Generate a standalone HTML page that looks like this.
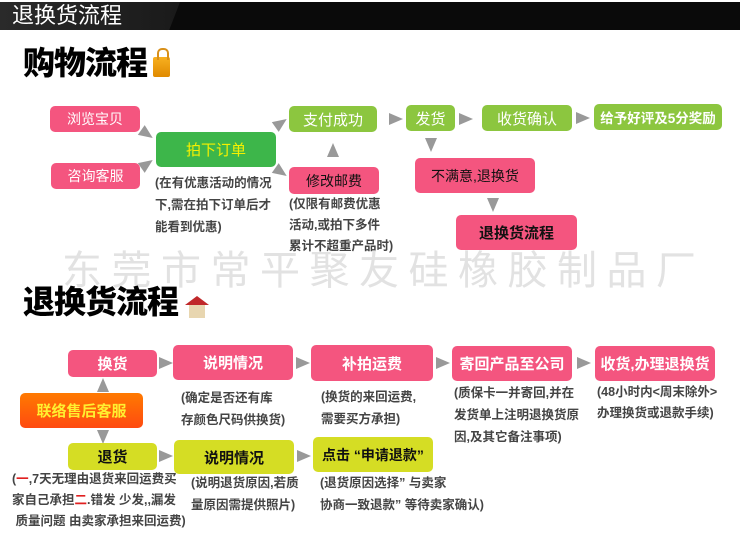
<!DOCTYPE html>
<html><head><meta charset="utf-8"><style>
body{margin:0;width:750px;height:542px;background:#fff;position:relative;overflow:hidden;font-family:"Liberation Sans","Noto Sans CJK SC",sans-serif}
.a{position:absolute}
.b{position:absolute;border-radius:5px;display:flex;align-items:center;justify-content:center;font-size:14px;color:#fff;white-space:nowrap}
.p{background:#f4557f}.g{background:#8cc63f}.y{background:#d5dd24;color:#111;font-weight:bold}
.t{position:absolute;font-size:12.5px;color:#444;line-height:22px;white-space:nowrap;font-weight:bold}
.ar{position:absolute;width:0;height:0}
.r{border-top:6px solid transparent;border-bottom:6px solid transparent;border-left:14px solid #999}
.u{border-left:6px solid transparent;border-right:6px solid transparent;border-bottom:14px solid #999}
.d{border-left:6px solid transparent;border-right:6px solid transparent;border-top:14px solid #999}
</style></head><body>
<div class="a" style="left:0;top:2px;width:740px;height:28px;background:#0a0a0a"></div>
<div class="a" style="left:0;top:2px;width:180px;height:28px;background:linear-gradient(90deg,#2a2a2a,#1a1a1a);clip-path:polygon(0 0,100% 0,94% 100%,0 100%)"></div>
<div class="a" style="left:12px;top:3px;font-size:22px;color:#fff;line-height:26px">退换货流程</div>

<div class="a" style="left:23px;top:43px;font-size:32px;font-weight:900;color:#000;letter-spacing:-1px;line-height:40px">购物流程</div>
<div class="a" style="left:153px;top:57px;width:17px;height:20px;background:linear-gradient(#f8b020,#e08a00);border-radius:2px"></div>
<div class="a" style="left:157px;top:48px;width:8px;height:10px;border:2px solid #d8901a;border-bottom:none;border-radius:5px 5px 0 0"></div>

<div class="b p" style="left:50px;top:106px;width:90px;height:26px">浏览宝贝</div>
<div class="b p" style="left:51px;top:163px;width:89px;height:26px">咨询客服</div>
<div class="ar r" style="left:140px;top:128px;transform:rotate(35deg)"></div>
<div class="ar r" style="left:140px;top:158px;transform:rotate(-35deg)"></div>
<div class="b" style="left:156px;top:132px;width:120px;height:35px;background:#3db64a;color:#f5f000;font-size:15px">拍下订单</div>
<div class="ar r" style="left:274px;top:117px;transform:rotate(-35deg)"></div>
<div class="ar r" style="left:274px;top:166px;transform:rotate(35deg)"></div>
<div class="b g" style="left:289px;top:106px;width:88px;height:26px;font-size:15px">支付成功</div>
<div class="ar u" style="left:327px;top:143px"></div>
<div class="b p" style="left:289px;top:167px;width:90px;height:27px;color:#111">修改邮费</div>
<div class="t" style="left:155px;top:172px">(在有优惠活动的情况<br>下,需在拍下订单后才<br>能看到优惠)</div>
<div class="t" style="left:289px;top:194px;line-height:21px">(仅限有邮费优惠<br>活动,或拍下多件<br>累计不超重产品时)</div>

<div class="ar r" style="left:389px;top:113px"></div>
<div class="b g" style="left:406px;top:105px;width:49px;height:26px;font-size:15px">发货</div>
<div class="ar r" style="left:459px;top:113px"></div>
<div class="b g" style="left:482px;top:105px;width:90px;height:26px;font-size:15px">收货确认</div>
<div class="ar r" style="left:576px;top:112px"></div>
<div class="b g" style="left:594px;top:104px;width:128px;height:26px;font-weight:bold;font-size:13.5px">给予好评及5分奖励</div>
<div class="ar d" style="left:425px;top:138px"></div>
<div class="b p" style="left:415px;top:158px;width:120px;height:35px;color:#111">不满意,退换货</div>
<div class="ar d" style="left:487px;top:198px"></div>
<div class="b p" style="left:456px;top:215px;width:121px;height:35px;color:#111;font-weight:bold;font-size:15px">退换货流程</div>

<div class="a" style="left:62px;top:248px;font-size:40px;color:#e2e2e2;letter-spacing:9.5px;line-height:46px">东莞市常平聚友硅橡胶制品厂</div>

<div class="a" style="left:23px;top:282px;font-size:32px;font-weight:900;color:#000;letter-spacing:-1px;line-height:40px">退换货流程</div>
<div class="a" style="left:185px;top:296px;width:0;height:0;border-left:12px solid transparent;border-right:12px solid transparent;border-bottom:9px solid #c0282a"></div>
<div class="a" style="left:189px;top:305px;width:16px;height:13px;background:#e8d6b0"></div>

<div class="b p" style="left:68px;top:350px;width:89px;height:27px;font-size:15px;font-weight:bold">换货</div>
<div class="ar r" style="left:159px;top:357px"></div>
<div class="b p" style="left:173px;top:345px;width:120px;height:35px;font-size:15px;font-weight:bold">说明情况</div>
<div class="ar r" style="left:296px;top:357px"></div>
<div class="b p" style="left:311px;top:345px;width:122px;height:36px;font-size:15px;font-weight:bold">补拍运费</div>
<div class="ar r" style="left:436px;top:357px"></div>
<div class="b p" style="left:452px;top:346px;width:120px;height:35px;font-size:15px;font-weight:bold">寄回产品至公司</div>
<div class="ar r" style="left:577px;top:357px"></div>
<div class="b p" style="left:595px;top:346px;width:120px;height:35px;font-size:15px;font-weight:bold">收货,办理退换货</div>
<div class="ar u" style="left:97px;top:378px"></div>
<div class="b" style="left:20px;top:393px;width:123px;height:35px;background:linear-gradient(#ff7a00,#ff4a10);color:#ffef30;font-size:15px;font-weight:bold">联络售后客服</div>
<div class="ar d" style="left:97px;top:430px"></div>
<div class="b y" style="left:68px;top:443px;width:89px;height:27px;font-size:15px">退货</div>
<div class="ar r" style="left:159px;top:450px"></div>
<div class="b y" style="left:174px;top:440px;width:120px;height:34px;font-size:15px">说明情况</div>
<div class="ar r" style="left:297px;top:450px"></div>
<div class="b y" style="left:313px;top:437px;width:120px;height:35px;font-size:14px;justify-content:flex-start;padding-left:9px;box-sizing:border-box">点击 “申请退款”</div>

<div class="t" style="left:181px;top:387px">(确定是否还有库<br>存颜色尺码供换货)</div>
<div class="t" style="left:321px;top:386px">(换货的来回运费,<br>需要买方承担)</div>
<div class="t" style="left:454px;top:382px;line-height:22px">(质保卡一并寄回,并在<br>发货单上注明退换货原<br>因,及其它备注事项)</div>
<div class="t" style="left:597px;top:382px;line-height:21px">(48小时内&lt;周末除外&gt;<br>办理换货或退款手续)</div>
<div class="t" style="left:12px;top:469px;line-height:21px">(<span style="color:#e02020">一</span>,7天无理由退货来回运费买<br>家自己承担<span style="color:#e02020">二</span>.错发 少发,,漏发<br>&nbsp;质量问题 由卖家承担来回运费)</div>
<div class="t" style="left:191px;top:472px">(说明退货原因,若质<br>量原因需提供照片)</div>
<div class="t" style="left:320px;top:472px">(退货原因选择” 与卖家<br>协商一致退款” 等待卖家确认)</div>
</body></html>
